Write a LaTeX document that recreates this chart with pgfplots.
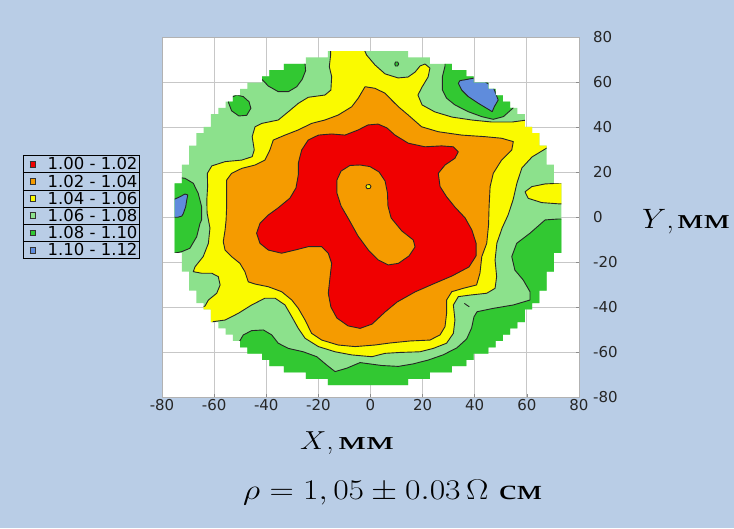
\RequirePackage{fix-cm}
\documentclass[border=0pt]{standalone}
\usepackage{fontspec}
\usepackage{graphicx}
\usepackage{pgfplots}
\pgfplotsset{compat=1.18}
\newfontfamily\dejavu{DejaVu Sans}
\newfontfamily\cyr{Liberation Serif}
\definecolor{bg}{RGB}{185,205,230}
\definecolor{cRed}{RGB}{240,0,0}
\definecolor{cOrange}{RGB}{245,155,0}
\definecolor{cYellow}{RGB}{250,250,0}
\definecolor{cLgreen}{RGB}{140,225,140}
\definecolor{cDgreen}{RGB}{50,200,50}
\definecolor{cBlue}{RGB}{95,140,220}
\newcommand\tickfont{\dejavu\fontsize{15}{15}\selectfont}
\newcommand\sq[1]{\raisebox{5.4pt}{\fboxsep=2pt\fboxrule=0.6pt\fcolorbox{black!80}{#1}{\rule{1.2pt}{0pt}\rule{0pt}{1.2pt}}}}
\newcommand\lrow[2]{\hspace{6.6pt}\sq{#1}\hspace{11.7pt}#2\hspace{2.3pt}\rule[-2.45pt]{0pt}{16.4pt}}
\tikzset{contour/.style={draw=black!85, line width=0.9pt, line join=round}}
\begin{document}
\begin{tikzpicture}[x=1pt,y=1pt]
\fill[bg] (0,0) rectangle (734,528);
\useasboundingbox (0,0) rectangle (734,528);
\begin{axis}[
  at={(162pt,131pt)}, anchor=south west,
  width=417pt, height=360pt, scale only axis,
  xmin=-80, xmax=80, ymin=-80, ymax=80,
  xtick={-80,-60,...,80}, ytick={-80,-60,...,80},
  xticklabels={-80,-60,-40,-20,0,20,40,60,80},
  yticklabels={-80,-60,-40,-20,0,20,40,60,80},
  xtick pos=lower, ytick pos=right, yticklabel pos=right,
  grid=major, major grid style={draw=black!22, line width=0.8pt},
  axis line style={draw=black!30, line width=0.8pt},
  tick style={draw=black!45, line width=0.6pt}, major tick length=2.5pt,
  axis background/.style={fill=white},
  xticklabel style={font=\tickfont, inner sep=0pt, yshift=-2pt, text=black!85},
  yticklabel style={font=\tickfont, inner sep=0pt, anchor=west, xshift=14pt, text=black!85},
]
% wafer (1.06 - 1.08)
\addplot[fill=cLgreen, draw=none] coordinates {
(-16.4,73.7) (14.4,73.7)
(14.4,70.9) (22.8,70.9) (22.8,68.1) (31.2,68.1) (31.2,65.3) (36.8,65.3) (36.8,62.5) (39.6,62.5) (39.6,59.7) (45.2,59.7) (45.2,56.9) (48,56.9) (48,54.1) (50.8,54.1) (50.8,51.3) (53.6,51.3) (53.6,48.5) (56.4,48.5) (56.4,45.7) (59.2,45.7) (59.2,40.1) (62,40.1) (62,37.3) (64.8,37.3) (64.8,31.7) (67.6,31.7) (67.6,23.3) (70.4,23.3) (70.4,14.9) (73.2,14.9)
(73.2,-15.9)
(70.4,-15.9) (70.4,-24.3) (67.6,-24.3) (67.6,-32.7) (64.8,-32.7) (64.8,-38.3) (62,-38.3) (62,-41.1) (59.2,-41.1) (59.2,-46.7) (56.4,-46.7) (56.4,-49.5) (53.6,-49.5) (53.6,-52.3) (50.8,-52.3) (50.8,-55.1) (48,-55.1) (48,-57.9) (45.2,-57.9) (45.2,-60.7) (39.6,-60.7) (39.6,-63.5) (36.8,-63.5) (36.8,-66.3) (31.2,-66.3) (31.2,-69.1) (22.8,-69.1) (22.8,-71.9) (14.4,-71.9) (14.4,-74.7)
(-16.4,-74.7)
(-16.4,-71.9) (-24.8,-71.9) (-24.8,-69.1) (-33.2,-69.1) (-33.2,-66.3) (-38.8,-66.3) (-38.8,-63.5) (-41.6,-63.5) (-41.6,-60.7) (-47.2,-60.7) (-47.2,-57.9) (-50,-57.9) (-50,-55.1) (-52.8,-55.1) (-52.8,-52.3) (-55.6,-52.3) (-55.6,-49.5) (-58.4,-49.5) (-58.4,-46.7) (-61.2,-46.7) (-61.2,-41.1) (-64,-41.1) (-64,-38.3) (-66.8,-38.3) (-66.8,-32.7) (-69.6,-32.7) (-69.6,-24.3) (-72.4,-24.3) (-72.4,-15.9) (-75.2,-15.9)
(-75.2,14.9)
(-72.4,14.9) (-72.4,23.3) (-69.6,23.3) (-69.6,31.7) (-66.8,31.7) (-66.8,37.3) (-64,37.3) (-64,40.1) (-61.2,40.1) (-61.2,45.7) (-58.4,45.7) (-58.4,48.5) (-55.6,48.5) (-55.6,51.3) (-52.8,51.3) (-52.8,54.1) (-50,54.1) (-50,56.9) (-47.2,56.9) (-47.2,59.7) (-41.6,59.7) (-41.6,62.5) (-38.8,62.5) (-38.8,65.3) (-33.2,65.3) (-33.2,68.1) (-24.8,68.1) (-24.8,70.9) (-16.4,70.9)
};
\begin{scope}
\clip plot coordinates {
(-16.4,73.7) (14.4,73.7)
(14.4,70.9) (22.8,70.9) (22.8,68.1) (31.2,68.1) (31.2,65.3) (36.8,65.3) (36.8,62.5) (39.6,62.5) (39.6,59.7) (45.2,59.7) (45.2,56.9) (48,56.9) (48,54.1) (50.8,54.1) (50.8,51.3) (53.6,51.3) (53.6,48.5) (56.4,48.5) (56.4,45.7) (59.2,45.7) (59.2,40.1) (62,40.1) (62,37.3) (64.8,37.3) (64.8,31.7) (67.6,31.7) (67.6,23.3) (70.4,23.3) (70.4,14.9) (73.2,14.9)
(73.2,-15.9)
(70.4,-15.9) (70.4,-24.3) (67.6,-24.3) (67.6,-32.7) (64.8,-32.7) (64.8,-38.3) (62,-38.3) (62,-41.1) (59.2,-41.1) (59.2,-46.7) (56.4,-46.7) (56.4,-49.5) (53.6,-49.5) (53.6,-52.3) (50.8,-52.3) (50.8,-55.1) (48,-55.1) (48,-57.9) (45.2,-57.9) (45.2,-60.7) (39.6,-60.7) (39.6,-63.5) (36.8,-63.5) (36.8,-66.3) (31.2,-66.3) (31.2,-69.1) (22.8,-69.1) (22.8,-71.9) (14.4,-71.9) (14.4,-74.7)
(-16.4,-74.7)
(-16.4,-71.9) (-24.8,-71.9) (-24.8,-69.1) (-33.2,-69.1) (-33.2,-66.3) (-38.8,-66.3) (-38.8,-63.5) (-41.6,-63.5) (-41.6,-60.7) (-47.2,-60.7) (-47.2,-57.9) (-50,-57.9) (-50,-55.1) (-52.8,-55.1) (-52.8,-52.3) (-55.6,-52.3) (-55.6,-49.5) (-58.4,-49.5) (-58.4,-46.7) (-61.2,-46.7) (-61.2,-41.1) (-64,-41.1) (-64,-38.3) (-66.8,-38.3) (-66.8,-32.7) (-69.6,-32.7) (-69.6,-24.3) (-72.4,-24.3) (-72.4,-15.9) (-75.2,-15.9)
(-75.2,14.9)
(-72.4,14.9) (-72.4,23.3) (-69.6,23.3) (-69.6,31.7) (-66.8,31.7) (-66.8,37.3) (-64,37.3) (-64,40.1) (-61.2,40.1) (-61.2,45.7) (-58.4,45.7) (-58.4,48.5) (-55.6,48.5) (-55.6,51.3) (-52.8,51.3) (-52.8,54.1) (-50,54.1) (-50,56.9) (-47.2,56.9) (-47.2,59.7) (-41.6,59.7) (-41.6,62.5) (-38.8,62.5) (-38.8,65.3) (-33.2,65.3) (-33.2,68.1) (-24.8,68.1) (-24.8,70.9) (-16.4,70.9)
} -- cycle;
% 1.08 - 1.10 regions
\addplot[contour, fill=cDgreen] coordinates {
(-56,-62) (-50.7,-56.1) (-48.8,-52.4) (-45.6,-50.5) (-41.1,-50.2) (-37.9,-52.4) (-35.4,-56.1) (-31.5,-58.4) (-25.8,-59.9) (-20.6,-62.1) (-16.8,-65.8) (-13.6,-68.7) (-9.1,-67.2) (-4.0,-64.7) (-2.1,-65.0) (4.3,-66.0) (10.7,-66.4) (16.3,-65.3) (22.1,-63.6) (27.8,-61.3) (33.1,-58.2) (36.9,-54.2) (38.8,-49.3) (39.7,-44.4) (40.9,-42.1) (47.1,-40.6) (54.8,-39.1) (61.2,-36.9) (61.2,-33.2) (58.6,-28.0) (55.4,-23.6) (54.2,-17.6) (56.1,-11.7) (61.2,-7.2) (67.0,-1.3) (71.9,-0.9) (80,-0.9) (80,-80) (-60,-80) (-60,-62) (-56,-62)};
\addplot[contour, fill=cDgreen] coordinates {
(-80,17.9) (-75.7,17.9) (-71.2,17.2) (-68.0,15.0) (-66.1,10.5) (-64.8,4.6) (-64.8,-1.3) (-65.4,-2.8) (-66.7,-8.8) (-69.3,-13.9) (-72.4,-15.4) (-75.3,-16.1) (-80,-16.1) (-80,17.9)};
\addplot[contour, fill=cDgreen] coordinates {
(-45,75) (-45,61.2) (-41.7,61.2) (-39.2,58.2) (-35.4,55.7) (-31.5,55.7) (-28.3,57.9) (-26.2,61.2) (-24.9,65.0) (-25.1,68.0) (-26.4,69.0) (-28,75) (-45,75)};
\addplot[contour, fill=cDgreen] coordinates {
(-54.6,51.2) (-53.3,47.2) (-50.5,44.9) (-47.5,45.2) (-45.9,48.3) (-46.6,51.2) (-48.8,53.5) (-51.3,54.2) (-53.3,53.2) (-54.6,51.2)};
\addplot[contour, fill=cDgreen] coordinates {
(28.6,75) (28.6,67.1) (27.6,62.4) (27.6,56.4) (29.2,52.8) (32.4,49.8) (37.5,46.8) (42.7,44.6) (47.1,43.4) (51.0,44.6) (54.2,47.9) (60,55) (40,75) (28.6,75)};
\addplot[contour, fill=cDgreen] coordinates {
(9.3,68) (9.6,68.9) (10.4,68.9) (10.8,68) (10.4,67.1) (9.6,67.1) (9.3,68)};
% 1.10 - 1.12 regions
\addplot[contour, fill=cBlue] coordinates {
(-80,8.0) (-75.0,8.0) (-73.1,9.0) (-71.2,10.2) (-70.1,9.8) (-70.5,7.6) (-70.9,4.6) (-71.8,1.6) (-72.4,0.4) (-73.9,-0.1) (-80,-0.1) (-80,8.0)};
\addplot[contour, fill=cBlue] coordinates {
(34.3,60.6) (33.7,59.4) (35.0,56.4) (37.5,53.5) (41.4,50.5) (44.6,48.3) (46.7,46.8) (47.5,49) (49,52) (47,58) (41,62) (36.3,61) (34.3,60.6)};
% 1.04 - 1.06 region
\addplot[contour, fill=cYellow] coordinates {
(-15.2,78.7) (-4.0,78.7) (-1.5,72.0) (1.7,67.6) (5.6,63.6) (10.6,61.8) (14.4,62.2) (17.1,64.4) (19.0,67.1) (20.9,68.0) (22.8,66.2) (22.1,62.2) (19.8,57.8) (18.2,54.2) (19.8,49.8) (24.7,46.7) (31.3,44.4) (38.9,43.1) (46.6,42.2) (54.3,42.2) (60.0,43.1) (63.1,47.6) (72.7,38.7) (72.7,30.7) (67.7,30.7) (62.0,26.7) (58.1,21.8) (56.2,15.1) (54.7,7.6) (52.8,0.9) (50.5,-4.9) (48.5,-11.6) (47.8,-19.1) (48.4,-26.5) (47.8,-31.7) (44.6,-33.9) (38.2,-34.7) (33.7,-35.4) (31.8,-39.1) (32.4,-45.8) (31.8,-51.7) (29.2,-56.1) (24.1,-58.4) (19.0,-59.9) (11.3,-60.2) (5.6,-60.6) (0.5,-62.1) (-7.2,-61.3) (-13.6,-59.9) (-20.0,-57.6) (-25.1,-53.9) (-27.7,-49.5) (-30.2,-44.3) (-32.8,-39.1) (-36.6,-36.1) (-40.5,-36.1) (-45.6,-39.1) (-50.7,-42.8) (-55.8,-45.8) (-60.3,-46.5) (-63.5,-51.1) (-68.5,-41.3) (-63.5,-39.6) (-62.2,-36.9) (-59.0,-33.9) (-57.7,-30.2) (-58.4,-26.5) (-60.9,-25.0) (-64.8,-25.0) (-68.0,-24.3) (-67.3,-22.1) (-64.2,-17.6) (-62.2,-11.7) (-61.6,-4.9) (-62.7,1.8) (-62.8,7.6) (-62.5,13.5) (-62.6,19.4) (-60.9,22.7) (-55.8,24.6) (-49.4,25.3) (-45.4,26.8) (-44.6,29.8) (-45.4,35.7) (-44.3,40.1) (-41.7,41.6) (-35.4,43.1) (-31.5,46.8) (-27.7,50.5) (-23.9,53.2) (-17.5,54.2) (-15.2,56.4) (-14.9,62.4) (-15.8,66.8) (-15.3,72.0) (-15.2,78.7)};
\addplot[contour, fill=cYellow] coordinates {
(80,15) (72.7,15.0) (67.0,14.7) (61.9,13.5) (59.3,11.2) (60.5,8.3) (65.7,6.4) (72.7,5.8) (80,5.8) (80,15)};
\end{scope}
% 1.02 - 1.04 region
\addplot[contour, fill=cOrange] coordinates {
(-2.1,57.9) (1.7,57.2) (5.6,55.0) (8.1,52.0) (10.7,49.0) (14.5,45.3) (19.6,40.1) (26.0,37.9) (35.0,36.4) (43.9,35.7) (50.3,35.0) (54.8,33.5) (54.2,29.8) (50.3,25.3) (47.1,19.4) (45.9,13.5) (45.5,4.6) (45.3,-3.6) (44.6,-11.7) (42.7,-17.6) (42.0,-25.0) (40.7,-30.2) (35.6,-31.7) (31.2,-33.2) (29.2,-36.9) (29.2,-42.8) (28.6,-48.7) (26.7,-52.4) (22.8,-54.7) (15.2,-55.1) (7.5,-56.0) (1.7,-56.9) (-5.9,-57.6) (-12.4,-56.9) (-18.7,-54.7) (-22.6,-51.7) (-25.1,-45.8) (-27.7,-40.6) (-30.2,-36.9) (-34.1,-33.2) (-39.2,-31.0) (-44.3,-29.8) (-46.9,-28.8) (-48.2,-24.3) (-50.1,-20.6) (-53.3,-17.6) (-55.8,-14.7) (-56.5,-11.0) (-55.8,-5.8) (-55.4,-1.3) (-55.2,4.6) (-55.2,10.5) (-55.2,16.4) (-53.3,19.4) (-49.4,21.6) (-44.3,23.1) (-40.5,25.3) (-38.6,29.8) (-37.3,34.2) (-32.8,36.4) (-27.7,38.7) (-22.6,41.6) (-17.5,43.1) (-12.4,45.3) (-7.2,49.0) (-4.7,52.8) (-2.1,57.9)};
% 1.00 - 1.02 region
\addplot[contour, fill=cRed] coordinates {
(-9.8,36.4) (-4.7,38.7) (-1.0,40.9) (2.9,41.3) (6.3,39.6) (9.4,36.4) (14.5,32.8) (20.9,31.2) (27.3,31.6) (31.8,31.2) (33.7,29.0) (32.4,26.1) (28.6,23.1) (26.0,19.4) (26.7,13.5) (29.2,9.0) (32.4,4.4) (36.3,-0.4) (38.9,-5.8) (40.5,-11.6) (40.5,-17.3) (37.8,-22.2) (31.3,-26.2) (24.0,-29.8) (17.1,-33.3) (10.2,-37.8) (5.6,-42.2) (0.6,-47.6) (-4.0,-49.5) (-8.6,-48.4) (-12.9,-44.9) (-15.2,-40.0) (-16.2,-33.9) (-15.5,-26.5) (-14.9,-20.6) (-16.2,-16.1) (-18.7,-13.2) (-23.9,-13.2) (-29.0,-14.7) (-34.1,-16.1) (-39.2,-14.7) (-42.4,-11.7) (-43.7,-7.2) (-42.4,-2.8) (-39.2,0.9) (-35.5,4.0) (-30.9,8.4) (-28.6,12.9) (-27.7,18.7) (-27.7,23.9) (-26.4,29.8) (-23.9,34.2) (-20.0,36.4) (-14.9,36.9) (-9.8,36.4)};
% inner 1.02 - 1.04
\addplot[contour, fill=cOrange] coordinates {
(-7.9,22.9) (-4.0,23.1) (-0.2,22.4) (3.3,20.0) (5.6,16.0) (6.5,10.7) (6.7,4.9) (7.9,-0.4) (12.0,-6.2) (16.4,-10.2) (17.1,-13.3) (14.8,-17.3) (10.7,-20.6) (6.8,-21.3) (3.0,-19.1) (-0.8,-14.7) (-4.8,-8.4) (-8.2,-1.3) (-11.3,4.9) (-12.9,10.7) (-12.9,16.4) (-11.3,20.4) (-7.9,22.9)};
\addplot[contour, fill=cYellow] coordinates {
(-1.8,13.5) (-1.4,14.3) (-0.3,14.4) (0.2,13.6) (-0.2,12.7) (-1.3,12.6) (-1.8,13.5)};
\addplot[contour] coordinates {(36.0,-38.4) (37.9,-39.9)};
\end{axis}
% legend
\node[anchor=north west, inner sep=0pt] at (22.7,373) {\dejavu\fontsize{16.5}{16.5}\selectfont
  \setlength{\tabcolsep}{0pt}\setlength{\arrayrulewidth}{0.8pt}\renewcommand{\arraystretch}{0}%
  \begin{tabular}{|l|}\hline
  \lrow{cRed}{1.00 - 1.02}\\\hline
  \lrow{cOrange}{1.02 - 1.04}\\\hline
  \lrow{cYellow}{1.04 - 1.06}\\\hline
  \lrow{cLgreen}{1.06 - 1.08}\\\hline
  \lrow{cDgreen}{1.08 - 1.10}\\\hline
  \lrow{cBlue}{1.10 - 1.12}\\\hline
  \end{tabular}};
% axis labels
\node[anchor=base west, inner sep=0pt, xscale=1.13] at (300,78) {\fontsize{26}{26}\selectfont $X$,\hspace{0.15em}\scalebox{1.5}[1]{\cyr мм}};
\node[anchor=base west, inner sep=0pt, xscale=1.1] at (642,299.7) {\fontsize{28}{28}\selectfont $Y$,\hspace{0.1em}\scalebox{1.35}[1]{\cyr мм}};
\node[anchor=base west, inner sep=0pt, xscale=1.18] at (243,29) {\fontsize{28.5}{28.5}\selectfont $\rho = 1,05 \pm 0.03\,\Omega$\hspace{0.3em}\scalebox{1.2}[1]{\cyr см}};
\end{tikzpicture}
\end{document}
